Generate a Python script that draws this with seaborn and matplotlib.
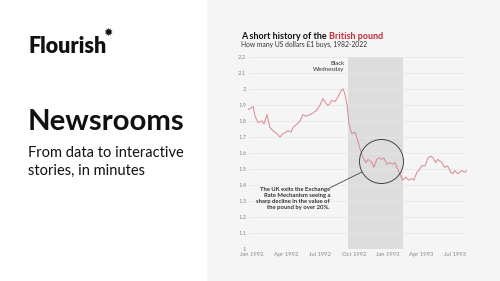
import matplotlib
matplotlib.use("Agg")
import matplotlib.pyplot as plt
import matplotlib.dates as mdates
from matplotlib.patches import Rectangle
from matplotlib.text import Annotation
import pandas as pd
import seaborn as sns

# ---------------- data ----------------
dates = [
    "1991-12-21", "1992-01-04", "1992-01-09", "1992-01-17", "1992-01-28", "1992-02-02",
    "1992-02-10", "1992-02-18", "1992-02-26", "1992-03-08", "1992-03-16", "1992-03-24",
    "1992-04-01", "1992-04-07", "1992-04-15", "1992-04-20", "1992-05-01", "1992-05-09",
    "1992-05-17", "1992-05-25", "1992-06-05", "1992-06-13", "1992-06-24", "1992-07-02",
    "1992-07-10", "1992-07-21", "1992-07-26", "1992-08-03", "1992-08-11", "1992-08-19",
    "1992-08-28", "1992-09-02", "1992-09-07", "1992-09-13", "1992-09-18", "1992-09-26",
    "1992-10-04", "1992-10-10", "1992-10-15", "1992-10-20", "1992-10-26", "1992-11-03",
    "1992-11-08", "1992-11-19", "1992-11-24", "1992-12-02", "1992-12-08", "1992-12-16",
    "1992-12-21", "1992-12-29", "1993-01-06", "1993-01-14", "1993-01-20", "1993-01-25",
    "1993-02-02", "1993-02-10", "1993-02-18", "1993-02-26", "1993-03-07", "1993-03-12",
    "1993-03-20", "1993-03-25", "1993-04-02", "1993-04-11", "1993-04-19", "1993-04-27",
    "1993-05-02", "1993-05-10", "1993-05-15", "1993-05-26", "1993-06-03", "1993-06-11",
    "1993-06-19", "1993-06-25", "1993-06-30", "1993-07-08", "1993-07-19", "1993-07-27",
    "1993-08-02",
]
usd_per_gbp = [
    1.87, 1.89, 1.83, 1.79, 1.80, 1.78,
    1.84, 1.76, 1.74, 1.72, 1.70, 1.72,
    1.73, 1.74, 1.73, 1.76, 1.78, 1.80,
    1.84, 1.83, 1.84, 1.85, 1.87, 1.90,
    1.94, 1.90, 1.90, 1.93, 1.92, 1.95,
    1.99, 2.00, 1.97, 1.90, 1.78, 1.72,
    1.73, 1.69, 1.65, 1.61, 1.57, 1.54,
    1.56, 1.54, 1.51, 1.56, 1.57, 1.56,
    1.57, 1.53, 1.54, 1.53, 1.54, 1.51,
    1.47, 1.43, 1.45, 1.43, 1.44, 1.43,
    1.48, 1.49, 1.52, 1.52, 1.57, 1.58,
    1.57, 1.54, 1.56, 1.54, 1.51, 1.52,
    1.48, 1.47, 1.49, 1.47, 1.49, 1.48,
    1.49,
]
y_ticks = [1.0, 1.1, 1.2, 1.3, 1.4, 1.5, 1.6, 1.7, 1.8, 1.9, 2.0, 2.1, 2.2]
y_tick_labels = ["1", "1.1", "1.2", "1.3", "1.4", "1.5", "1.6", "1.7", "1.8", "1.9", "2", "2.1", "2.2"]
x_ticks = ["1992-01-01", "1992-04-01", "1992-07-01", "1992-10-01", "1993-01-01", "1993-04-01", "1993-07-01"]
highlight_start, highlight_end = "1992-09-16", "1993-02-10"
circle_date, circle_value = "1992-12-13", 1.55
note_anchor_date, note_anchor_value = "1992-07-29", 1.385
leader_dates, leader_values = ["1992-07-29", "1992-10-23"], [1.383, 1.481]

title_main = "A short history of the "
title_red = "British pound"
subtitle = "How many US dollars £1 buys, 1982-2022"
annotation_text = "The UK exits the Exchange\nRate Mechanism seeing a\nsharp decline in the value of\nthe pound by over 20%."
highlight_label = "Black\nWednesday"

df = pd.DataFrame({"date": pd.to_datetime(dates), "rate": usd_per_gbp})

# ---------------- style ----------------
sns.set_theme(style="white")
plt.rcParams["font.family"] = ["Lato", "DejaVu Sans"]

W, H = 500, 281
fig = plt.figure(figsize=(5, 2.81), dpi=100)
fig.patch.set_facecolor("white")


def fx(px):
    return px / W


def fy(py):
    return 1 - py / H


# gray panel on the right
fig.patches.append(Rectangle((fx(207), 0), 1 - fx(207), 1, transform=fig.transFigure,
                             facecolor="#f5f5f5", edgecolor="none", zorder=-5))

# left-hand texts
fig.text(fx(28), fy(53), "Flourish", fontsize=15.5, fontweight="heavy", color="#111111",
         va="baseline", ha="left")
fig.text(fx(108), fy(33), "\u2739", fontsize=8, color="#111111", va="center", ha="center",
         family=["DejaVu Sans"])
fig.text(fx(28), fy(130), "Newsrooms", fontsize=21.2, fontweight="bold", color="#111111",
         va="baseline", ha="left")
fig.text(fx(28), fy(157), "From data to interactive", fontsize=10.5, color="#111111",
         va="baseline", ha="left")
fig.text(fx(28), fy(175), "stories, in minutes", fontsize=10.5, color="#111111",
         va="baseline", ha="left")

# title
t1 = fig.text(fx(241), fy(39), title_main, fontsize=6.5, fontweight="bold", color="#111111",
              va="baseline", ha="left")
fig.add_artist(Annotation(title_red, xy=(1, 0), xycoords=t1, va="bottom", ha="left",
                          fontsize=6.5, fontweight="bold", color="#c8283a"))
fig.text(fx(241), fy(47), subtitle, fontsize=4.9, color="#333333", va="baseline", ha="left")

# chart axes
x_left_px, x_right_px = 248, 467
y_top_px, y_bot_px = 57, 249
ax = fig.add_axes([fx(x_left_px), fy(y_bot_px), fx(x_right_px - x_left_px),
                   (y_bot_px - y_top_px) / H])
ax.patch.set_alpha(0)

ax.axvspan(pd.Timestamp(highlight_start), pd.Timestamp(highlight_end), ymin=0, ymax=1,
           color="#dddddd", lw=0, zorder=0.5)

sns.lineplot(data=df, x="date", y="rate", ax=ax, color="#da8890", lw=0.7, zorder=3)

ax.set_xlim(pd.Timestamp(dates[0]), pd.Timestamp(dates[-1]))
ax.set_ylim(1.0, 2.2)
ax.set_yticks(y_ticks)
ax.set_yticklabels(y_tick_labels)
ax.set_xticks(pd.to_datetime(x_ticks))
ax.xaxis.set_major_formatter(mdates.DateFormatter("%b %Y"))
ax.grid(axis="y", color="#e6e6e6", lw=0.5, zorder=0)
ax.grid(axis="x", visible=False)
ax.set_axisbelow(True)
for s in ax.spines.values():
    s.set_visible(False)
ax.tick_params(axis="both", length=0, labelsize=4.2, colors="#888888")
ax.tick_params(axis="y", pad=1.2)
ax.tick_params(axis="x", pad=2.5)
ax.set_xlabel("")
ax.set_ylabel("")

# highlight label
ax.annotate(highlight_label, xy=(pd.Timestamp(highlight_start), 2.2), xytext=(-2.5, -3),
            textcoords="offset points", ha="right", va="top", fontsize=4.3,
            color="#333333", linespacing=1.15)

# circle annotation
ax.plot([pd.Timestamp(circle_date)], [circle_value], marker="o", ms=31.7, mfc="none",
        mec="#444444", mew=0.7, zorder=4)
ax.text(pd.Timestamp(note_anchor_date), note_anchor_value, annotation_text,
        ha="right", va="top", fontsize=4.2, fontweight="bold", color="#333333",
        linespacing=1.2)
ax.plot(pd.to_datetime(leader_dates), leader_values, color="#444444", lw=0.6, zorder=4)

fig.savefig("out.png", dpi=100, facecolor="white")
